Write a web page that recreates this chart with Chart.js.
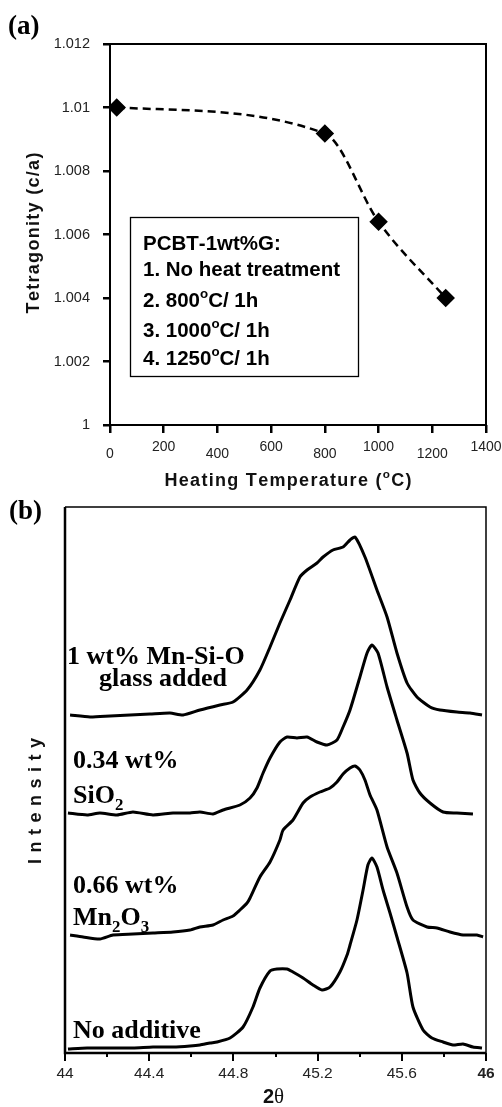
<!DOCTYPE html>
<html>
<head>
<meta charset="utf-8">
<script src="https://cdn.jsdelivr.net/npm/chart.js@4.4.1/dist/chart.umd.min.js"></script>
<style>
  html, body { margin: 0; padding: 0; background: #fff; }
  #a { position: absolute; left: 0; top: 0; }
  #b { position: absolute; left: 0; top: 495px; }
</style>
</head>
<body>
<canvas id="a" width="502" height="495"></canvas>
<canvas id="b" width="502" height="612"></canvas>
<script>
// (a) tetragonality vs heating temperature
const heatTemp = [25, 800, 1000, 1250];
const tetragonity = [1.0100, 1.00918, 1.0064, 1.0040];
const tetraTicks = [1, 1.002, 1.004, 1.006, 1.008, 1.01, 1.012];
const tempTicks = [0, 200, 400, 600, 800, 1000, 1200, 1400];
const legendLines = ['PCBT-1wt%G:', '1. No heat treatment', '2. 800^oC/ 1h', '3. 1000^oC/ 1h', '4. 1250^oC/ 1h'];

// (b) XRD traces, intensity in arbitrary (offset) units
const thetaTicks = [44, 44.2, 44.4, 44.6, 44.8, 45, 45.2, 45.4, 45.6, 45.8, 46];
const thetaGlass = [44.024,44.119,44.214,44.309,44.404,44.499,44.561,44.641,44.736,44.798,44.865,44.926,44.974,45.021,45.069,45.116,45.150,45.197,45.226,45.273,45.321,45.354,45.378,45.425,45.482,45.530,45.577,45.625,45.672,45.734,45.781,45.862,45.924,45.981];
const intGlass = [338,336,337,338,339,340,338,343,348,351,363,383,406,430,453,476,483,490,496,503,506,513,516,496,463,436,400,370,356,346,343,341,340,338];
const thetaSiO2 = [44.014,44.105,44.166,44.247,44.323,44.418,44.513,44.594,44.641,44.703,44.751,44.831,44.879,44.912,44.941,44.974,45.021,45.055,45.102,45.150,45.197,45.245,45.292,45.321,45.354,45.401,45.435,45.458,45.487,45.530,45.577,45.625,45.653,45.686,45.734,45.796,45.862,45.938];
const intSiO2 = [240,238,240,238,241,238,240,240,241,239,243,248,255,265,280,295,311,316,315,316,311,308,313,326,343,376,400,408,400,366,333,300,273,260,250,241,240,239];
const thetaMn2O3 = [44.024,44.086,44.166,44.228,44.323,44.418,44.513,44.594,44.641,44.703,44.751,44.798,44.831,44.865,44.879,44.926,44.974,45.021,45.036,45.083,45.131,45.164,45.211,45.259,45.292,45.321,45.354,45.378,45.401,45.425,45.449,45.482,45.530,45.577,45.625,45.653,45.720,45.767,45.829,45.891,45.957,45.986];
const intMn2O3 = [118,116,114,118,119,120,121,123,126,128,133,137,143,150,155,176,191,213,223,233,250,256,261,265,271,279,285,287,283,273,258,243,206,180,146,133,126,125,121,118,118,116];
const thetaNone = [44.014,44.105,44.20,44.323,44.418,44.513,44.594,44.641,44.689,44.722,44.784,44.846,44.893,44.926,44.974,45.007,45.055,45.083,45.131,45.178,45.221,45.259,45.306,45.340,45.354,45.387,45.416,45.439,45.458,45.482,45.511,45.544,45.577,45.625,45.653,45.701,45.743,45.796,45.843,45.891,45.938,45.981];
const intNone = [4,5,5,5,6,6,7,8,10,11,15,26,46,65,82,84,84,81,75,68,63,66,81,98,108,133,163,188,195,186,163,140,116,80,46,23,15,11,8,9,6,5];

const sans = '"Liberation Sans", Arial, sans-serif';
const serif = '"Liberation Serif", "Times New Roman", serif';

const zip = (xs, ys) => xs.map((x, i) => ({ x: x, y: ys[i] }));

// draws text where ^c is superscript and _c is subscript
function rich(ctx, str, x, y, size, family, weight, spacing, measureOnly) {
  let cx = x;
  spacing = spacing || 0;
  for (let i = 0; i < str.length; i++) {
    let ch = str[i], dy = 0, s = size;
    if ((ch === '^' || ch === '_') && i + 1 < str.length) {
      dy = ch === '^' ? -size * 0.42 : size * 0.25;
      s = size * 0.65;
      ch = str[++i];
    }
    ctx.font = weight + ' ' + s + 'px ' + family;
    if (!measureOnly) ctx.fillText(ch, cx, y + dy);
    cx += ctx.measureText(ch).width + spacing;
  }
  return cx - x - spacing;
}

const decorA = {
  id: 'decorA',
  afterDraw(chart) {
    const ctx = chart.ctx, a = chart.chartArea, xs = chart.scales.x;
    ctx.save();
    ctx.strokeStyle = '#000';
    ctx.lineWidth = 2;
    ctx.strokeRect(a.left, a.top, a.right - a.left, a.bottom - a.top);

    // staggered x tick labels
    ctx.fillStyle = '#222';
    ctx.font = '14px ' + sans;
    ctx.textAlign = 'center';
    ctx.textBaseline = 'middle';
    tempTicks.forEach((v, i) => ctx.fillText(String(v), xs.getPixelForValue(v), a.bottom + (i % 2 ? 22 : 29)));

    ctx.textAlign = 'left';
    ctx.textBaseline = 'alphabetic';
    ctx.fillStyle = '#111';
    // x title
    let w = rich(ctx, 'Heating Temperature (^oC)', 0, 0, 18, sans, 'bold', 1.3, true);
    rich(ctx, 'Heating Temperature (^oC)', 288 - w / 2, 486, 18, sans, 'bold', 1.3);
    // y title
    ctx.save();
    ctx.translate(39, 233);
    ctx.rotate(-Math.PI / 2);
    w = rich(ctx, 'Tetragonity (c/a)', 0, 0, 18, sans, 'bold', 1.3, true);
    rich(ctx, 'Tetragonity (c/a)', -w / 2, 0, 18, sans, 'bold', 1.3);
    ctx.restore();

    // panel label
    ctx.fillStyle = '#000';
    ctx.font = 'bold 27px ' + serif;
    ctx.fillText('(a)', 8, 34);

    // legend box
    ctx.lineWidth = 1.3;
    ctx.strokeRect(130.5, 217.5, 228, 159);
    const base = [250, 276, 307, 337, 365];
    legendLines.forEach((t, i) => rich(ctx, t, 143, base[i], 20.5, sans, 'bold', 0));
    ctx.restore();
  }
};

new Chart(document.getElementById('a'), {
  type: 'scatter',
  data: {
    datasets: [{
      data: zip(heatTemp, tetragonity),
      showLine: true,
      cubicInterpolationMode: 'monotone',
      borderColor: '#000',
      borderWidth: 2.5,
      borderDash: [8, 5],
      pointStyle: 'rectRot',
      pointRadius: 7.5,
      pointBackgroundColor: '#000',
      pointBorderColor: '#000'
    }]
  },
  options: {
    responsive: false,
    animation: false,
    devicePixelRatio: 1,
    layout: { padding: { left: 0, top: 44, right: 16, bottom: 0 } },
    plugins: { legend: { display: false }, tooltip: { enabled: false } },
    scales: {
      x: {
        type: 'linear', min: 0, max: 1400,
        afterBuildTicks: s => { s.ticks = tempTicks.map(v => ({ value: v })); },
        afterFit: s => { s.height = 70; },
        ticks: { display: false },
        grid: { drawOnChartArea: false, tickLength: 8, color: '#000', lineWidth: 2.5 },
        border: { display: false }
      },
      y: {
        type: 'linear', min: 1, max: 1.012,
        afterBuildTicks: s => { s.ticks = tetraTicks.map(v => ({ value: v })); },
        afterFit: s => { s.width = 110; },
        ticks: {
          padding: 13, color: '#222', font: { family: sans, size: 14.5 },
          callback: v => String(+v.toFixed(3))
        },
        grid: { drawOnChartArea: false, tickLength: 7, color: '#000', lineWidth: 2.5 },
        border: { display: false }
      }
    }
  },
  plugins: [decorA]
});

const minorTheta = thetaTicks.filter((v, i) => i % 2 === 1);

const decorB = {
  id: 'decorB',
  afterDraw(chart) {
    const ctx = chart.ctx, a = chart.chartArea, xs = chart.scales.x;
    ctx.save();
    ctx.strokeStyle = '#000';
    ctx.lineWidth = 1.5;
    ctx.beginPath();
    ctx.moveTo(a.left, a.top); ctx.lineTo(a.right, a.top); ctx.lineTo(a.right, a.bottom);
    ctx.stroke();
    ctx.lineWidth = 2.5;
    ctx.beginPath();
    ctx.moveTo(a.left, a.top); ctx.lineTo(a.left, a.bottom); ctx.lineTo(a.right, a.bottom);
    ctx.stroke();
    // minor ticks
    ctx.lineWidth = 2;
    minorTheta.forEach(v => {
      const px = Math.round(xs.getPixelForValue(v));
      ctx.beginPath(); ctx.moveTo(px, a.bottom); ctx.lineTo(px, a.bottom + 4); ctx.stroke();
    });

    ctx.fillStyle = '#000';
    ctx.textAlign = 'left';
    ctx.textBaseline = 'alphabetic';
    ctx.font = 'bold 27px ' + serif;
    ctx.fillText('(b)', 9, 24);

    const fs = 26;
    rich(ctx, '1 wt% Mn-Si-O', 67, 169, fs, serif, 'bold', 0);
    let w = rich(ctx, 'glass added', 0, 0, fs, serif, 'bold', 0, true);
    rich(ctx, 'glass added', 163 - w / 2, 191, fs, serif, 'bold', 0);
    rich(ctx, '0.34 wt%', 73, 273, fs, serif, 'bold', 0);
    rich(ctx, 'SiO_2', 73, 308, fs, serif, 'bold', 0);
    rich(ctx, '0.66 wt%', 73, 398, fs, serif, 'bold', 0);
    rich(ctx, 'Mn_2O_3', 73, 430, fs, serif, 'bold', 0);
    rich(ctx, 'No additive', 73, 543, fs, serif, 'bold', 0);

    // y title
    ctx.fillStyle = '#111';
    ctx.save();
    ctx.translate(41, 306);
    ctx.rotate(-Math.PI / 2);
    w = rich(ctx, 'Intensity', 0, 0, 18, sans, 'bold', 6.5, true);
    rich(ctx, 'Intensity', -w / 2, 0, 18, sans, 'bold', 6.5);
    ctx.restore();

    // x title
    ctx.font = 'bold 20px ' + sans;
    ctx.fillText('2', 263, 608);
    const w2 = ctx.measureText('2').width;
    ctx.font = '21px ' + serif;
    ctx.fillText('\u03B8', 263 + w2, 608);
    ctx.restore();
  }
};

const trace = (xs, ys) => ({
  data: zip(xs, ys),
  showLine: true,
  borderColor: '#000',
  borderWidth: 3,
  pointRadius: 0,
  tension: 0.2
});

new Chart(document.getElementById('b'), {
  type: 'scatter',
  data: {
    datasets: [
      trace(thetaGlass, intGlass),
      trace(thetaSiO2, intSiO2),
      trace(thetaMn2O3, intMn2O3),
      trace(thetaNone, intNone)
    ]
  },
  options: {
    responsive: false,
    animation: false,
    devicePixelRatio: 1,
    layout: { padding: { left: 65, top: 12, right: 16, bottom: 0 } },
    plugins: { legend: { display: false }, tooltip: { enabled: false } },
    scales: {
      x: {
        type: 'linear', min: 44, max: 46,
        afterBuildTicks: s => { s.ticks = thetaTicks.map(v => ({ value: v })); },
        afterFit: s => { s.height = 54; },
        ticks: {
          padding: 3, color: '#222', maxRotation: 0, autoSkip: false,
          font: c => ({ family: sans, size: 15.5, weight: c.tick && c.tick.value === 46 ? 'bold' : 'normal' }),
          callback: (v, i) => (i % 2 === 0 ? String(+v.toFixed(1)) : '')
        },
        grid: {
          drawOnChartArea: false, tickLength: 8, lineWidth: 2,
          color: c => (c.index % 2 === 0 ? '#000' : 'rgba(0,0,0,0)')
        },
        border: { display: false }
      },
      y: { type: 'linear', min: 0, max: 546, display: false }
    }
  },
  plugins: [decorB]
});
</script>
</body>
</html>
